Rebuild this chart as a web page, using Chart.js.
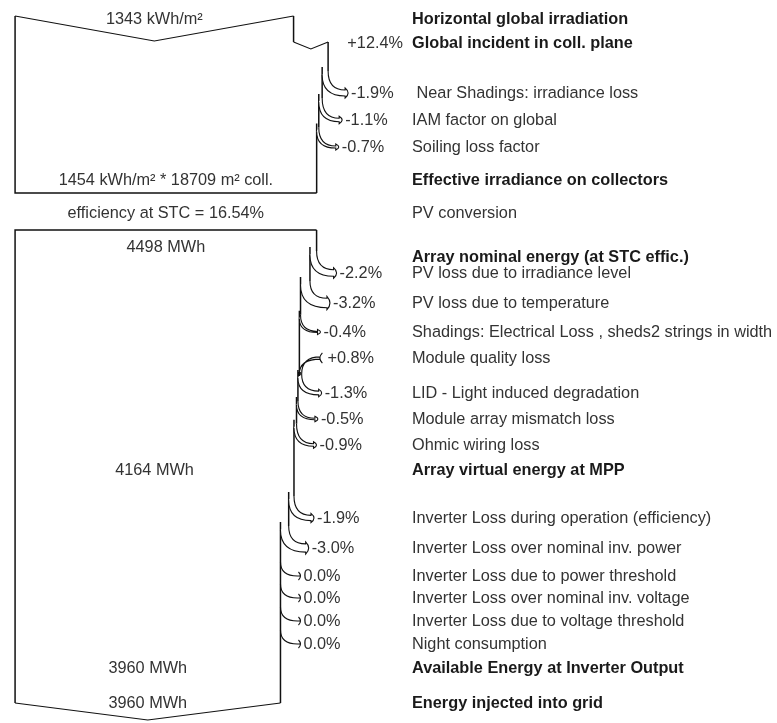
<!DOCTYPE html>
<html>
<head>
<meta charset="utf-8">
<script src="https://cdn.jsdelivr.net/npm/chart.js@4.4.1/dist/chart.umd.min.js"></script>
<style>
html,body{margin:0;padding:0;background:#fff}
</style>
</head>
<body>
<canvas id="lossChart" width="777" height="723"></canvas>
<script>
// right column labels, one per row
const rowLabels = [
  "Horizontal global irradiation",
  "Global incident in coll. plane",
  " Near Shadings: irradiance loss",
  "IAM factor on global",
  "Soiling loss factor",
  "Effective irradiance on collectors",
  "PV conversion",
  "Array nominal energy (at STC effic.)",
  "PV loss due to irradiance level",
  "PV loss due to temperature",
  "Shadings: Electrical Loss , sheds2 strings in width",
  "Module quality loss",
  "LID - Light induced degradation",
  "Module array mismatch loss",
  "Ohmic wiring loss",
  "Array virtual energy at MPP",
  "Inverter Loss during operation (efficiency)",
  "Inverter Loss over nominal inv. power",
  "Inverter Loss due to power threshold",
  "Inverter Loss over nominal inv. voltage",
  "Inverter Loss due to voltage threshold",
  "Night consumption",
  "Available Energy at Inverter Output",
  "Energy injected into grid"
];
// % gain / loss of each row (null = no arrow)
const rowChange = [null, 12.4, -1.9, -1.1, -0.7, null, null, null,
  -2.2, -3.2, -0.4, 0.8, -1.3, -0.5, -0.9, null,
  -1.9, -3.0, 0.0, 0.0, 0.0, 0.0, null, null];
const boldRows = [0, 1, 5, 7, 15, 22, 23];

const horizIrr = 1343;      // kWh/m2
const effIrr = 1454;        // kWh/m2
const collArea = 18709;     // m2
const stcEff = 16.54;       // %
const nominalEnergy = 4498; // MWh
const mppEnergy = 4164;
const inverterOut = 3960;
const gridEnergy = 3960;

// layout: y of each row on the vertical axis
const rowY = [19, 43, 93, 120, 147, 180, 213, 257, 273, 303, 332, 358,
  393, 419, 445, 470, 518, 548, 576, 598, 621, 644, 668, 703];

const leftText = {
  0: horizIrr + " kWh/m\u00b2",
  5: effIrr + " kWh/m\u00b2 * " + collArea + " m\u00b2 coll.",
  6: "efficiency at STC = " + stcEff.toFixed(2) + "%",
  7: nominalEnergy + " MWh",
  15: mppEnergy + " MWh",
  22: inverterOut + " MWh",
  23: gridEnergy + " MWh"
};

// flow blocks, width in % of the block reference
let blocks = [
  {first: 0, last: 5, top: 16, bottom: 193, start: 100 * horizIrr / effIrr},
  {first: 7, last: 23, top: 230, bottom: 703, start: 100}
];

let segs = [];
let arrows = [];
let widthAt = {6: 100};

function reach(p){
  return 14 + 8 * Math.min(Math.abs(p), 1);
}

for (let b of blocks){
  let w = b.start, y0 = b.top;
  widthAt[b.first] = w;
  for (let i = b.first + 1; i <= b.last; i++){
    let p = rowChange[i];
    if (p === null){ widthAt[i] = w; continue; }
    let wn = w * (1 + p / 100);
    if (p > 0 && i === b.first + 1){
      // gain at the top drawn as notch
      segs.push({pts: [[w, y0], [w, rowY[i] - 1]], lw: 1.5});
      segs.push({pts: [[w, rowY[i] - 1], [(w + wn) / 2, rowY[i] + 6], [wn, rowY[i] - 1]], lw: 1.1});
      arrows.push({row: i, type: 'notch', wp: w, wn: wn});
      y0 = rowY[i] - 1;
    } else if (p > 0){
      let yj = rowY[i] + 16;
      segs.push({pts: [[w, y0], [w, yj]], lw: 1.5});
      arrows.push({row: i, type: 'gain', wp: w, wn: wn, yj: yj});
      y0 = yj;
    } else {
      let yj = Math.max(rowY[i] - reach(p), y0);
      segs.push({pts: [[w, y0], [w, yj]], lw: 1.5});
      arrows.push({row: i, type: 'loss', wp: w, wn: wn, yj: yj});
      y0 = (p === 0) ? yj : yj - 4;
    }
    w = wn;
    widthAt[i] = w;
  }
  segs.push({pts: [[w, y0], [w, b.bottom]], lw: 1.5});
  b.end = w;
}

let b1 = blocks[0], b2 = blocks[1];
segs.push({pts: [[b1.start, b1.top], [b1.start / 2, b1.top + 25], [0, b1.top]], lw: 1.1});
segs.push({pts: [[0, b1.top], [0, b1.bottom], [b1.end, b1.bottom]], lw: 1.5});
segs.push({pts: [[b2.start, b2.top], [0, b2.top], [0, b2.bottom]], lw: 1.5});
segs.push({pts: [[0, b2.bottom], [b2.end / 2, b2.bottom + 17], [b2.end, b2.bottom]], lw: 1.1});

let datasets = segs.map(s => ({
  data: s.pts.map(pt => ({x: pt[0], y: pt[1]})),
  showLine: true,
  borderColor: '#111',
  borderWidth: s.lw,
  pointRadius: 0,
  tension: 0,
  fill: false
}));

function fmt(p){
  if (p === 0) return "0.0%";
  return (p > 0 ? "+" : "") + p.toFixed(1) + "%";
}

const flowPlugin = {
  id: 'flowPlugin',
  afterDatasetsDraw(chart){
    const ctx = chart.ctx, xs = chart.scales.x, ys = chart.scales.y;
    const FONT = '16.3px "Liberation Sans", Arial, sans-serif';
    const labelX = 412;
    ctx.save();
    ctx.strokeStyle = '#111';
    ctx.lineWidth = 1.1;
    ctx.textBaseline = 'middle';

    for (let a of arrows){
      let xo = xs.getPixelForValue(a.wp), xn = xs.getPixelForValue(a.wn);
      let yr = ys.getPixelForValue(rowY[a.row]);
      let txt = fmt(rowChange[a.row]);
      ctx.fillStyle = '#333';
      ctx.font = FONT;
      if (a.type === 'notch'){
        ctx.textAlign = 'right';
        ctx.fillText(txt, labelX - 9, yr + 1);
        continue;
      }
      let yj = ys.getPixelForValue(a.yj);
      if (a.type === 'gain'){
        let t = xn - xo, tail = xo + 21;
        ctx.beginPath();
        ctx.moveTo(tail, yr - t / 2);
        ctx.quadraticCurveTo(xn, yr - t / 2, xn, yj);
        ctx.lineTo(xo, yj);
        ctx.quadraticCurveTo(xo, yr + t / 2, tail, yr + t / 2);
        ctx.closePath();
        ctx.fillStyle = '#fff';
        ctx.fill();
        ctx.beginPath();
        ctx.moveTo(tail, yr - t / 2);
        ctx.quadraticCurveTo(xn, yr - t / 2, xn, yj);
        ctx.moveTo(xo, yj);
        ctx.quadraticCurveTo(xo, yr + t / 2, tail, yr + t / 2);
        ctx.moveTo(tail + 2, yr - t / 2 - 4);
        ctx.quadraticCurveTo(tail - 3, yr, tail + 2, yr + t / 2 + 4);
        ctx.stroke();
        ctx.fillStyle = '#111';
        ctx.fillRect(xo - 1.5, yj - 2, 3, 4);
        ctx.fillStyle = '#333';
        ctx.textAlign = 'left';
        ctx.fillText(txt, xo + 28, yr + 1);
        continue;
      }
      let t = xo - xn, tip = xo + 21, hb = tip - 4;
      ctx.beginPath();
      if (t < 0.8){
        ctx.moveTo(xo, yj);
        ctx.quadraticCurveTo(xo, yr, hb, yr);
        ctx.lineTo(tip - 1, yr);
        ctx.moveTo(tip - 3, yr - 4);
        ctx.quadraticCurveTo(tip + 1, yr, tip - 3, yr + 4);
        ctx.stroke();
      } else {
        ctx.moveTo(xo, yj);
        ctx.quadraticCurveTo(xo, yr - t / 2, hb, yr - t / 2);
        ctx.lineTo(hb, yr - t / 2 - 2);
        ctx.quadraticCurveTo(tip + 2, yr, hb, yr + t / 2 + 2);
        ctx.lineTo(hb, yr + t / 2);
        ctx.quadraticCurveTo(xn, yr + t / 2, xn, yj + 4);
        ctx.fillStyle = '#fff';
        ctx.fill();
        ctx.stroke();
      }
      ctx.fillStyle = '#333';
      ctx.textAlign = 'left';
      ctx.fillText(txt, tip + 2, yr + 1);
    }

    // right column labels
    ctx.textAlign = 'left';
    rowLabels.forEach((lab, i) => {
      let bold = boldRows.includes(i);
      ctx.font = (bold ? 'bold ' : '') + FONT;
      ctx.fillStyle = bold ? '#1a1a1a' : '#333';
      ctx.fillText(lab, labelX, ys.getPixelForValue(rowY[i]) + 1);
    });

    // values inside the flow
    ctx.font = FONT;
    ctx.fillStyle = '#333';
    ctx.textAlign = 'center';
    for (let k in leftText){
      let i = parseInt(k);
      let y = (i === b2.first) ? b2.top + 17 : rowY[i];
      ctx.fillText(leftText[k], xs.getPixelForValue(widthAt[i] / 2), ys.getPixelForValue(y) + 1);
    }
    ctx.restore();
  }
};

new Chart("lossChart", {
  type: 'scatter',
  data: {datasets: datasets},
  options: {
    responsive: false,
    animation: false,
    events: [],
    layout: {padding: 0},
    plugins: {legend: {display: false}, tooltip: {enabled: false}},
    scales: {
      x: {type: 'linear', display: false, min: -5, max: 252.7},
      y: {type: 'linear', display: false, min: 0, max: 723, reverse: true}
    }
  },
  plugins: [flowPlugin]
});
</script>
</body>
</html>
